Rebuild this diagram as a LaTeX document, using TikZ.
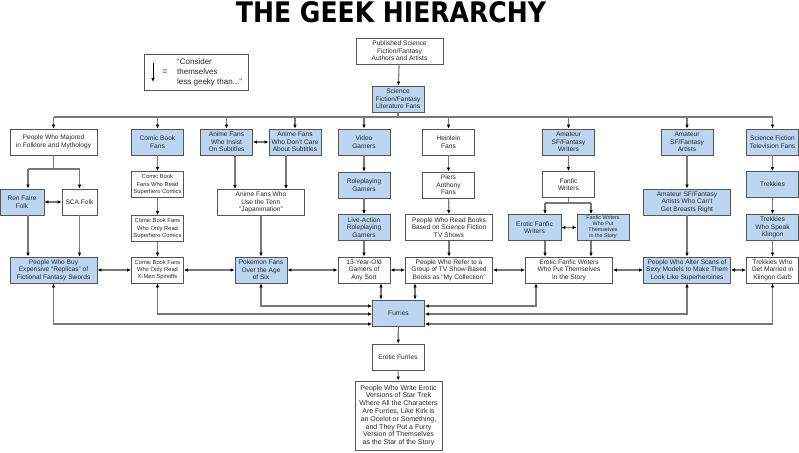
\documentclass[tikz,border=0pt]{standalone}
\usepackage{fontspec}
\setmainfont{Liberation Sans}
\newfontfamily\titlefont{DejaVu Sans}
\usepackage{graphicx}
\usetikzlibrary{arrows.meta}
\definecolor{boxblue}{RGB}{188,214,242}
\definecolor{boxline}{RGB}{85,85,85}
\definecolor{conncol}{RGB}{120,120,120}
\definecolor{txt}{RGB}{40,40,40}
\begin{document}
\begin{tikzpicture}[x=1pt,y=-1pt,
  box/.style={draw=boxline, line width=0.9pt, fill=white, text=txt, align=center, inner sep=1pt, minimum height=26pt, font=\fontsize{6.6}{7.6}\selectfont},
  bluebox/.style={box, fill=boxblue},
  nw/.style={minimum width=52pt},
  ww/.style={minimum width=87pt},
  smallfont/.style={font=\fontsize{5.8}{7.2}\selectfont},
  conn/.style={draw=conncol, line width=1.1pt},
  arr/.style={conn, -{Latex[length=4pt,width=3.6pt,color=black]}},
  darr/.style={conn, {Latex[length=4pt,width=3.6pt,color=black]}-{Latex[length=4pt,width=3.6pt,color=black]}},
]
\useasboundingbox[fill=white] (0,0) rectangle (799,452);

% title
\node[inner sep=0] (title) at (391,12.5) {\resizebox{310pt}{21pt}{\titlefont\bfseries THE GEEK HIERARCHY}};

% legend
\node[draw=boxline, line width=0.9pt, minimum width=104pt, minimum height=36pt, inner sep=0] (legend) at (196,72) {};
\coordinate (legtop) at (153,63);
\coordinate (legbot) at (153,82);
\draw[-{Latex[length=4pt,width=3.6pt]}, line width=0.9pt, black] (legtop) -- (legbot);
\node[font=\fontsize{9}{10}\selectfont, text=txt] (legeq) at (165,72) {=};
\node[anchor=west, align=left, font=\fontsize{8}{10}\selectfont, text=txt, inner sep=0] (legtext) at (177,72) {“Consider\\themselves\\less geeky than...”};

% top
\node[box,ww] (pub) at (399.5,51) {Published Science\\Fiction/Fantasy\\Authors and Artists};
\node[bluebox,nw] (sflit) at (398,99) {Science\\Fiction/Fantasy\\Literature Fans};

% row 1
\node[box,ww] (folk) at (53.5,142) {People Who Majored\\in Folklore and Mythology};
\node[bluebox,nw] (comic) at (157.5,142) {Comic Book\\Fans};
\node[bluebox,nw] (insist) at (226.5,142) {Anime Fans\\Who Insist\\On Subtitles};
\node[bluebox,nw] (dontcare) at (295,142) {Anime Fans\\Who Don't Care\\About Subtitles};
\node[bluebox,nw] (video) at (364,142) {Video\\Gamers};
\node[box,nw] (heinlein) at (448.5,142) {Heinlein\\Fans};
\node[bluebox,nw] (amwriters) at (568.5,142) {Amateur\\SF/Fantasy\\Writers};
\node[bluebox,nw] (amartists) at (687,142) {Amateur\\SF/Fantasy\\Artists};
\node[bluebox,nw] (sftv) at (772.5,142) {Science Fiction\\Television Fans};

% row 2
\node[bluebox,minimum width=44pt] (ren) at (22,202) {Ren Faire\\Folk};
\node[box,minimum width=35pt] (sca) at (79.5,202) {SCA Folk};
\node[box,nw,smallfont] (csuper) at (157.5,184.5) {Comic Book\\Fans Who Read\\Superhero Comics};
\node[box,nw,smallfont] (conly) at (157.5,228.5) {Comic Book Fans\\Who Only Read\\Superhero Comics};
\node[box,ww] (japan) at (261,202.5) {Anime Fans Who\\Use the Term\\“Japanimation”};
\node[bluebox,nw] (rpg) at (364,185) {Roleplaying\\Gamers};
\node[bluebox,nw] (larp) at (364,227.5) {Live-Action\\Roleplaying\\Gamers};
\node[box,nw] (piers) at (448.5,185) {Piers\\Anthony\\Fans};
\node[box,ww] (tvbooks) at (449,227.5) {People Who Read Books\\Based on Science Fiction\\TV Shows};
\node[box,nw] (fanfic) at (568.5,184.5) {Fanfic\\Writers};
\node[bluebox,minimum width=53pt] (eroticfw) at (534.5,227.5) {Erotic Fanfic\\Writers};
\node[bluebox,nw,font=\fontsize{5.4}{6}\selectfont] (fwput) at (603,227.5) {Fanfic Writers\\Who Put\\Themselves\\in the Story};
\node[bluebox,ww] (breasts) at (687,202) {Amateur SF/Fantasy\\Artists Who Can't\\Get Breasts Right};
\node[bluebox,nw] (trekkies) at (772.5,184.5) {Trekkies};
\node[bluebox,nw] (klingon) at (772.5,227.5) {Trekkies\\Who Speak\\Klingon};

% row 3
\node[bluebox,ww] (swords) at (53.5,270) {People Who Buy\\Expensive “Replicas” of\\Fictional Fantasy Swords};
\node[box,nw,smallfont] (xmen) at (157.5,270) {Comic Book Fans\\Who Only Read\\X-Men Spinoffs};
\node[bluebox,nw] (pokemon) at (261,270) {Pokemon Fans\\Over the Age\\of Six};
\node[box,nw] (thirteen) at (364,270) {13-Year-Old\\Gamers of\\Any Sort};
\node[box,ww] (collection) at (449,270) {People Who Refer to a\\Group of TV Show-Based\\Books as “My Collection”};
\node[box,ww] (eroticput) at (569,270) {Erotic Fanfic Writers\\Who Put Themselves\\In the Story};
\node[bluebox,ww] (sexy) at (687,270) {People Who Alter Scans of\\Sexy Models to Make Them\\Look Like Superheroines};
\node[box,nw] (married) at (772.5,270) {Trekkies Who\\Get Married in\\Klingon Garb};

% bottom
\node[bluebox,nw] (furries) at (398.5,313) {Furries};
\node[box,nw] (efurries) at (398,357) {Erotic Furries};
\node[box,ww,minimum height=69pt,font=\fontsize{7}{7.8}\selectfont] (final) at (398.5,415.5) {People Who Write Erotic\\Versions of Star Trek\\Where All the Characters\\Are Furries, Like Kirk is\\an Ocelot or Something,\\and They Put a Furry\\Version of Themselves\\as the Star of the Story};

% connectors: top
\coordinate (bus) at (0,117);
\draw[arr] (pub) -- (sflit);
\draw[conn] (sflit) -- (sflit.south |- bus);
\draw[conn] (folk.north |- bus) -- (sftv.north |- bus);
\foreach \n in {folk,comic,insist,dontcare,video,heinlein,amwriters,amartists,sftv}
  \draw[arr] (\n.north |- bus) -- (\n.north);

% folklore split
\coordinate (fsplit) at (0,169);
\draw[conn] (folk) -- (folk.south |- fsplit);
\draw[conn] ([xshift=6pt]ren.north |- fsplit) -- (sca.north |- fsplit);
\draw[arr] ([xshift=6pt]ren.north |- fsplit) -- ([xshift=6pt]ren.north);
\draw[arr] (sca.north |- fsplit) -- (sca.north);
\draw[darr] (ren) -- (sca);
\draw[arr] ([xshift=6pt]ren.south) -- ([xshift=6pt]ren.south |- swords.north);
\draw[arr] (sca) -- (sca.south |- swords.north);

% comics
\draw[arr] (comic) -- (csuper);
\draw[arr] (csuper) -- (conly);
\draw[arr] (conly) -- (xmen);

% anime
\draw[darr] (insist) -- (dontcare);
\draw[arr] ([xshift=8.5pt]insist.south) -- ([xshift=8.5pt]insist.south |- japan.north);
\draw[arr] ([xshift=-9pt]dontcare.south) -- ([xshift=-9pt]dontcare.south |- japan.north);
\draw[arr] (japan) -- (pokemon);

% gamers
\draw[arr] (video) -- (rpg);
\draw[arr] (rpg) -- (larp);
\draw[arr] (larp) -- (thirteen);

% heinlein
\draw[arr] (heinlein) -- (piers);
\draw[arr] (piers) -- (tvbooks);
\draw[arr] (tvbooks) -- (collection);

% writers
\draw[arr] (amwriters) -- (fanfic);
\coordinate (ffsplit) at (0,203);
\draw[conn] (fanfic) -- (fanfic.south |- ffsplit);
\draw[conn] ([xshift=10.5pt]eroticfw.north |- ffsplit) -- ([xshift=-12pt]fwput.north |- ffsplit);
\draw[arr] ([xshift=10.5pt]eroticfw.north |- ffsplit) -- ([xshift=10.5pt]eroticfw.north);
\draw[arr] ([xshift=-12pt]fwput.north |- ffsplit) -- ([xshift=-12pt]fwput.north);
\draw[darr] (eroticfw) -- (fwput);
\draw[arr] ([xshift=10.5pt]eroticfw.south) -- ([xshift=10.5pt]eroticfw.south |- eroticput.north);
\draw[arr] ([xshift=-12pt]fwput.south) -- ([xshift=-12pt]fwput.south |- eroticput.north);

% artists, tv
\draw[arr] (amartists) -- (breasts);
\draw[arr] (breasts) -- (sexy);
\draw[arr] (sftv) -- (trekkies);
\draw[arr] (trekkies) -- (klingon);
\draw[arr] (klingon) -- (married);

% row 3 links
\draw[darr] (swords) -- (xmen);
\draw[darr] (xmen) -- (pokemon);
\draw[darr] (pokemon) -- (thirteen);
\draw[darr] (thirteen) -- (collection);
\draw[darr] (collection) -- (eroticput);
\draw[darr] (eroticput) -- (sexy);
\draw[darr] (sexy) -- (married);

% furries
\coordinate (fa) at (0,306);
\coordinate (fb) at (0,314);
\coordinate (fc) at (0,324);
\draw[darr] (pokemon.south) |- (furries.west |- fa);
\draw[darr] (xmen.south) |- (furries.west |- fb);
\draw[darr] (swords.south) |- (furries.west |- fc);
\draw[darr] ([xshift=-33pt]eroticput.south) |- (furries.east |- fa);
\draw[darr] (sexy.south) |- (furries.east |- fb);
\draw[darr] (married.south) |- (furries.east |- fc);
\draw[darr] ([xshift=17pt]thirteen.south) -- ([xshift=17pt]thirteen.south |- furries.north);
\draw[darr] ([xshift=-34pt]collection.south) -- ([xshift=-34pt]collection.south |- furries.north);
\draw[arr] (furries) -- (efurries);
\draw[arr] (efurries) -- (final);
\end{tikzpicture}
\end{document}
